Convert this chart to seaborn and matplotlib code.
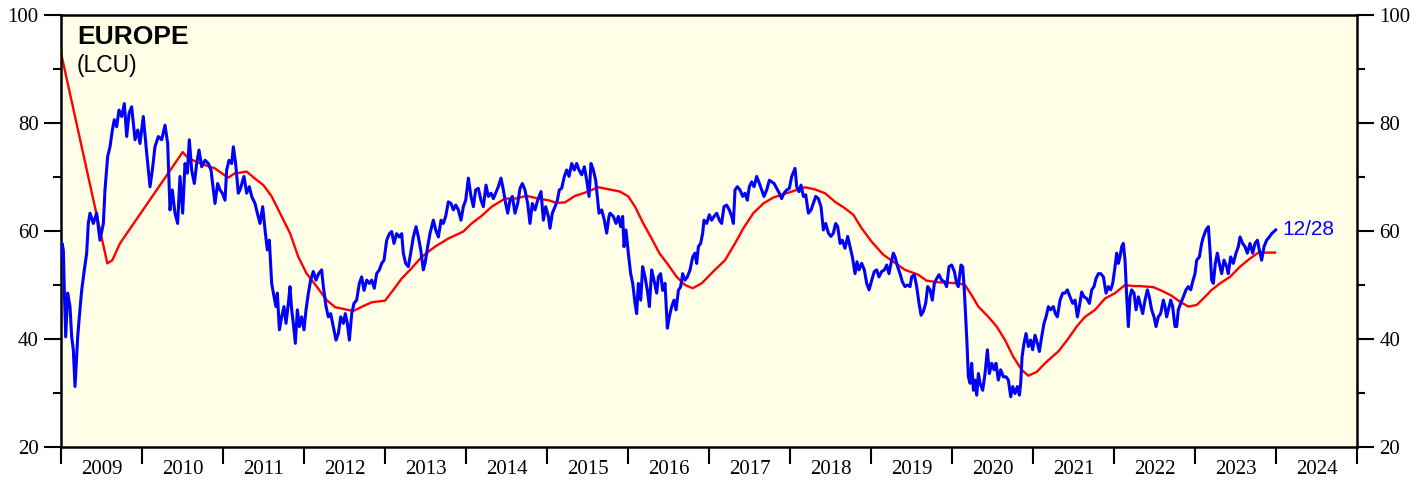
import matplotlib
matplotlib.use("Agg")
import matplotlib.pyplot as plt
import seaborn as sns
import pandas as pd
from matplotlib.ticker import FixedLocator, NullFormatter, FixedFormatter

# ---------------- data (decimal years, index values) ----------------
blue_years = [
    2009.000, 2009.012, 2009.029, 2009.041, 2009.058, 2009.082, 2009.111, 2009.132, 2009.152, 2009.173,
    2009.206, 2009.226, 2009.255, 2009.288, 2009.317, 2009.337, 2009.358, 2009.399, 2009.440, 2009.481,
    2009.523, 2009.543, 2009.576, 2009.605, 2009.634, 2009.658, 2009.687, 2009.716, 2009.749, 2009.782,
    2009.811, 2009.840, 2009.872, 2009.914, 2009.947, 2009.975, 2010.016, 2010.058, 2010.099, 2010.128,
    2010.160, 2010.202, 2010.243, 2010.284, 2010.317, 2010.346, 2010.374, 2010.407, 2010.440, 2010.469,
    2010.502, 2010.531, 2010.560, 2010.584, 2010.613, 2010.646, 2010.675, 2010.704, 2010.737, 2010.778,
    2010.819, 2010.852, 2010.881, 2010.901, 2010.934, 2010.963, 2010.992, 2011.025, 2011.045, 2011.074,
    2011.107, 2011.128, 2011.156, 2011.189,
    2011.210, 2011.259, 2011.292, 2011.325, 2011.354, 2011.395, 2011.424, 2011.457, 2011.490, 2011.519,
    2011.547, 2011.572, 2011.601, 2011.622, 2011.654, 2011.671, 2011.696, 2011.724, 2011.753, 2011.778,
    2011.807, 2011.827, 2011.848, 2011.868, 2011.893, 2011.918, 2011.943, 2011.971, 2012.000, 2012.025,
    2012.054, 2012.082, 2012.115, 2012.148, 2012.181, 2012.218, 2012.239, 2012.272, 2012.300, 2012.329,
    2012.362, 2012.395, 2012.424, 2012.453, 2012.486, 2012.510, 2012.535, 2012.560, 2012.589, 2012.617,
    2012.650, 2012.683, 2012.712, 2012.741, 2012.774, 2012.807, 2012.836, 2012.868, 2012.897, 2012.930,
    2012.959, 2012.988, 2013.021, 2013.054, 2013.082, 2013.111, 2013.144, 2013.177, 2013.206, 2013.226,
    2013.255, 2013.288, 2013.317, 2013.350, 2013.383, 2013.412, 2013.441, 2013.473,
    2013.494, 2013.527, 2013.556, 2013.597, 2013.626, 2013.659, 2013.692, 2013.720, 2013.749, 2013.782,
    2013.815, 2013.844, 2013.873, 2013.906, 2013.938, 2013.967, 2013.996, 2014.029, 2014.062, 2014.091,
    2014.119, 2014.152, 2014.185, 2014.214, 2014.247, 2014.276, 2014.309, 2014.338, 2014.366, 2014.399,
    2014.432, 2014.461, 2014.490, 2014.515, 2014.543, 2014.572, 2014.605, 2014.638, 2014.667, 2014.696,
    2014.728, 2014.761, 2014.790, 2014.819, 2014.852, 2014.885, 2014.926, 2014.955, 2014.984, 2015.017,
    2015.037, 2015.066, 2015.099, 2015.128, 2015.152, 2015.181, 2015.214, 2015.243, 2015.272, 2015.305,
    2015.337, 2015.366, 2015.395, 2015.428, 2015.461, 2015.490, 2015.519, 2015.543, 2015.572, 2015.601,
    2015.626, 2015.642, 2015.675, 2015.708, 2015.737, 2015.765,
    2015.778, 2015.819, 2015.852, 2015.881, 2015.910, 2015.934, 2015.951, 2015.975, 2016.004, 2016.033,
    2016.058, 2016.087, 2016.107, 2016.128, 2016.157, 2016.181, 2016.210, 2016.239, 2016.264, 2016.292,
    2016.321, 2016.354, 2016.375, 2016.403, 2016.428, 2016.457, 2016.486, 2016.510, 2016.539, 2016.568,
    2016.593, 2016.622, 2016.650, 2016.675, 2016.704, 2016.733, 2016.766, 2016.799, 2016.827, 2016.848,
    2016.869, 2016.897, 2016.922, 2016.938, 2016.971, 2017.004, 2017.033, 2017.062, 2017.095, 2017.128,
    2017.156, 2017.185, 2017.218, 2017.251, 2017.280, 2017.301, 2017.321, 2017.350, 2017.383, 2017.416,
    2017.445, 2017.473, 2017.498, 2017.527, 2017.556, 2017.589, 2017.622, 2017.650, 2017.679, 2017.712,
    2017.745, 2017.774, 2017.803, 2017.836, 2017.868, 2017.897, 2017.926, 2017.959, 2017.992, 2018.021,
    2018.062, 2018.083, 2018.111, 2018.136, 2018.165, 2018.194, 2018.227, 2018.260, 2018.288, 2018.317,
    2018.350, 2018.383, 2018.412, 2018.441, 2018.474, 2018.506, 2018.535, 2018.564, 2018.589, 2018.618,
    2018.646, 2018.679, 2018.712, 2018.741, 2018.770, 2018.803, 2018.827, 2018.852, 2018.885, 2018.918,
    2018.947, 2018.976, 2019.009, 2019.041, 2019.070, 2019.099, 2019.132, 2019.165, 2019.194, 2019.222,
    2019.247, 2019.276, 2019.297, 2019.329, 2019.358, 2019.387, 2019.420, 2019.453, 2019.482, 2019.502,
    2019.535, 2019.564, 2019.593, 2019.618, 2019.646, 2019.675, 2019.700, 2019.729, 2019.757, 2019.782,
    2019.811, 2019.840, 2019.873, 2019.906, 2019.934, 2019.963, 2019.996, 2020.029, 2020.058, 2020.078,
    2020.111, 2020.132, 2020.152, 2020.169, 2020.185, 2020.202, 2020.223, 2020.243, 2020.264, 2020.284,
    2020.305, 2020.326,
    2020.346, 2020.379, 2020.408, 2020.437, 2020.461, 2020.490, 2020.519, 2020.543, 2020.572, 2020.601,
    2020.634, 2020.667, 2020.696, 2020.725, 2020.749, 2020.778, 2020.807, 2020.832, 2020.848, 2020.865,
    2020.889, 2020.914, 2020.943, 2020.971, 2020.996, 2021.025, 2021.054, 2021.079, 2021.107, 2021.136,
    2021.161, 2021.190, 2021.218, 2021.251, 2021.276, 2021.301, 2021.334, 2021.367, 2021.395, 2021.424,
    2021.457, 2021.490, 2021.519, 2021.548, 2021.572, 2021.601, 2021.630, 2021.663, 2021.696, 2021.725,
    2021.753, 2021.778, 2021.807, 2021.836, 2021.869, 2021.902, 2021.930, 2021.959, 2021.984, 2022.013,
    2022.033, 2022.054, 2022.074, 2022.095, 2022.115, 2022.136, 2022.157, 2022.177, 2022.198, 2022.218,
    2022.247, 2022.272, 2022.301,
    2022.321, 2022.354, 2022.383, 2022.412, 2022.436, 2022.465, 2022.494, 2022.519, 2022.547, 2022.576,
    2022.609, 2022.630, 2022.650, 2022.671, 2022.700, 2022.724, 2022.753, 2022.774, 2022.794, 2022.823,
    2022.856, 2022.889, 2022.918, 2022.947, 2022.971, 2023.000, 2023.021, 2023.054, 2023.082, 2023.103,
    2023.136, 2023.165, 2023.185, 2023.206, 2023.226, 2023.251, 2023.276, 2023.300, 2023.329, 2023.358,
    2023.391, 2023.411, 2023.440, 2023.473, 2023.506, 2023.535, 2023.556, 2023.588, 2023.617, 2023.646,
    2023.679, 2023.712, 2023.741, 2023.770, 2023.794, 2023.823, 2023.852, 2023.885, 2023.918, 2023.946,
    2023.975, 2023.996,
]
blue_values = [
    55.0, 57.7, 56.5, 49.0, 40.4, 48.5, 46.0, 40.4, 38.0, 31.2,
    40.4, 44.1, 49.0, 52.8, 55.9, 61.4, 63.3, 61.4, 63.3, 58.3,
    61.4, 67.6, 73.8, 75.6, 78.7, 80.6, 79.3, 82.4, 81.2, 83.6,
    77.5, 81.8, 83.0, 76.9, 78.7, 76.2, 81.2, 74.4, 68.2, 71.3,
    75.6, 77.5, 76.9, 79.6, 76.2, 63.9, 67.6, 63.3, 61.4, 70.1,
    63.3, 72.5, 70.7, 76.9, 71.3, 68.8, 72.5, 75.0, 71.9, 73.1,
    72.5, 71.3, 67.6, 65.1, 68.8, 67.6, 67.0, 65.7, 71.3, 73.1,
    72.5, 75.6, 72.5, 67.0,
    67.6, 70.1, 67.0, 68.2, 66.4, 65.1, 63.3, 61.4, 64.5, 60.2,
    56.5, 58.3, 50.3, 48.5, 46.0, 48.5, 41.7, 44.1, 46.0, 42.9,
    46.6, 49.7, 45.4, 42.9, 39.2, 45.4, 42.3, 44.1, 41.7, 45.4,
    48.5, 50.9, 52.5, 50.9, 52.1, 52.8, 49.7, 46.0, 44.1, 44.7,
    42.3, 39.8, 41.0, 44.1, 42.9, 44.7, 42.9, 39.8, 44.7, 46.6,
    47.2, 50.3, 51.5, 49.0, 50.9, 50.3, 50.9, 49.4, 52.1, 52.8,
    54.0, 54.6, 58.3, 59.5, 59.9, 57.7, 59.5, 58.9, 59.5, 55.9,
    54.0, 53.4, 55.9, 58.9, 60.8, 58.9, 56.5, 52.8,
    54.0, 57.1, 59.6, 62.0, 60.2, 58.9, 62.0, 61.4, 62.7, 65.4,
    65.1, 63.9, 64.8, 63.9, 62.0, 64.5, 65.7, 69.8, 66.4, 64.5,
    67.6, 67.9, 65.7, 64.5, 68.5, 66.4, 67.0, 66.0, 67.0, 68.2,
    69.8, 67.6, 65.1, 63.3, 65.7, 66.4, 63.3, 65.1, 67.9, 68.8,
    67.6, 65.1, 61.4, 65.1, 63.9, 65.7, 67.3, 62.0, 64.5, 62.7,
    60.5, 63.3, 64.5, 65.7, 67.6, 67.9, 70.1, 71.3, 70.1, 72.5,
    71.3, 72.5, 71.3, 70.4, 71.9, 69.4, 66.4, 72.5, 71.3, 69.4,
    65.7, 63.3, 63.9, 62.0, 59.6, 62.7,
    63.3, 62.7, 61.4, 62.7, 60.8, 62.7, 57.1, 60.2, 55.9, 52.1,
    50.3, 46.6, 44.7, 50.3, 47.2, 53.4, 51.5, 49.0, 46.0, 52.8,
    50.9, 48.5, 51.5, 52.1, 49.0, 50.3, 42.0, 44.1, 46.0, 47.2,
    45.4, 49.0, 49.7, 52.1, 50.9, 51.5, 52.8, 55.2, 55.9, 54.0,
    57.1, 57.7, 59.6, 62.0, 61.4, 63.0, 62.0, 62.7, 63.3, 62.0,
    61.4, 64.5, 64.8, 63.9, 62.7, 61.4, 67.6, 68.2, 67.6, 66.4,
    67.0, 65.7, 68.2, 69.1, 68.2, 70.1, 68.8, 67.6, 66.4, 67.6,
    69.4, 69.1, 68.8, 67.9, 67.0, 66.0, 67.0, 67.6, 67.9, 70.1,
    71.6, 68.2, 67.3, 68.5, 66.4, 66.7, 63.3, 63.9, 65.1, 66.4,
    66.0, 64.5, 60.2, 61.4, 59.6, 59.0, 59.6, 61.4, 60.8, 57.7,
    58.3, 56.8, 59.0, 57.1, 55.2, 52.1, 54.3, 52.8, 54.0, 52.8,
    50.3, 49.1, 50.9, 52.5, 52.8, 51.5, 52.5, 52.8, 53.7, 52.1,
    54.0, 55.9, 55.2, 53.4, 52.1, 50.6, 49.7, 50.0, 49.7, 51.5,
    51.9, 49.7, 46.6, 44.4, 45.1, 46.6, 49.7, 49.1, 47.2, 50.3,
    51.2, 51.9, 50.9, 50.6, 49.7, 53.4, 53.7, 52.5, 50.3, 49.7,
    53.7, 53.4, 49.1, 44.1, 39.2, 33.0, 31.8, 35.5, 30.5, 32.4,
    29.6, 33.6,
    31.8, 30.5, 33.6, 38.0, 33.6, 35.5, 34.3, 35.5, 32.4, 34.3,
    33.0, 33.0, 32.4, 29.3, 31.2, 29.9, 31.2, 29.6, 31.8, 36.7,
    39.2, 41.0, 38.6, 39.8, 38.0, 40.7, 39.2, 37.7, 40.4, 42.9,
    44.1, 46.0, 45.4, 46.0, 44.7, 44.1, 47.2, 48.5, 48.5, 49.1,
    47.8, 46.6, 47.2, 44.1, 46.0, 48.7, 47.8, 47.5, 46.6, 49.1,
    49.7, 51.2, 52.1, 52.1, 51.5, 48.5, 49.7, 49.1, 50.3, 53.4,
    55.9, 54.0, 55.2, 57.1, 57.7, 54.6, 47.8, 42.3, 47.8, 49.1,
    48.5, 45.4, 47.8,
    46.6, 44.7, 47.2, 49.1, 47.8, 45.4, 44.1, 42.3, 44.1, 44.7,
    47.2, 46.0, 44.1, 45.4, 47.2, 46.0, 42.3, 42.3, 45.4, 46.6,
    47.8, 49.1, 49.7, 49.1, 50.6, 52.1, 54.6, 55.2, 57.7, 58.9,
    60.2, 60.8, 56.5, 50.9, 50.3, 54.0, 55.9, 54.0, 52.1, 54.6,
    53.4, 52.1, 55.2, 54.0, 55.9, 57.1, 58.9, 57.7, 57.1, 55.9,
    57.7, 55.9, 57.7, 58.3, 56.5, 54.6, 57.1, 58.3, 58.9, 59.5,
    59.9, 60.2,
]

red_years = [
    2009.000, 2009.572, 2009.634, 2009.728, 2010.502, 2010.572, 2010.675, 2010.778, 2010.901, 2010.984,
    2011.066, 2011.148, 2011.210, 2011.292, 2011.395, 2011.498, 2011.601, 2011.704, 2011.827, 2011.930,
    2012.033, 2012.157, 2012.280, 2012.383, 2012.506, 2012.609, 2012.733, 2012.836, 2013.000, 2013.103,
    2013.206, 2013.309, 2013.453, 2013.617, 2013.782, 2013.967, 2014.070, 2014.193, 2014.317, 2014.481,
    2014.605, 2014.749, 2014.893, 2015.017, 2015.119, 2015.222, 2015.346, 2015.469, 2015.634, 2015.737,
    2015.901, 2016.004, 2016.087, 2016.189, 2016.292, 2016.387, 2016.498, 2016.601, 2016.704, 2016.799,
    2016.909, 2017.053, 2017.198, 2017.321, 2017.424, 2017.547, 2017.671, 2017.794, 2017.918, 2018.021,
    2018.185, 2018.309, 2018.432, 2018.556, 2018.679, 2018.782, 2018.885, 2019.009, 2019.152, 2019.276,
    2019.420, 2019.584, 2019.687, 2019.831, 2019.975, 2020.078, 2020.160, 2020.243, 2020.325, 2020.449,
    2020.552, 2020.655, 2020.757, 2020.860, 2020.943, 2021.045, 2021.169, 2021.313, 2021.437, 2021.539,
    2021.642, 2021.766, 2021.889, 2022.013, 2022.136, 2022.239, 2022.321, 2022.486, 2022.609, 2022.712,
    2022.815, 2022.918, 2023.021, 2023.123, 2023.206, 2023.309, 2023.432, 2023.556, 2023.679, 2023.782,
    2023.885, 2023.988,
]
red_values = [
    93.0, 54.0, 54.6, 57.7, 74.6, 73.5, 72.8, 72.2, 71.6, 70.7,
    69.9, 70.7, 70.8, 71.0, 69.7, 68.5, 66.4, 63.3, 59.6, 55.2,
    52.1, 49.7, 47.2, 45.9, 45.5, 45.2, 46.1, 46.8, 47.1, 49.1,
    51.2, 52.8, 55.2, 57.1, 58.6, 59.9, 61.4, 62.8, 64.5, 66.0,
    66.0, 66.5, 66.0, 65.7, 65.2, 65.3, 66.5, 67.1, 68.1, 67.8,
    67.3, 66.4, 64.5, 61.4, 58.6, 55.9, 53.7, 51.5, 50.0, 49.4,
    50.3, 52.5, 54.6, 57.7, 60.5, 63.3, 65.1, 66.2, 66.8, 67.3,
    68.1, 67.7, 67.0, 65.4, 64.2, 63.0, 60.5, 58.0, 55.6, 54.3,
    52.8, 51.9, 50.8, 50.5, 50.4, 50.3, 50.0, 48.1, 46.0, 44.1,
    42.3, 39.8, 36.7, 34.3, 33.2, 33.9, 35.8, 37.7, 40.1, 42.3,
    44.1, 45.4, 47.5, 48.5, 50.0, 49.8, 49.8, 49.6, 48.8, 48.0,
    46.9, 46.0, 46.3, 47.8, 49.1, 50.3, 51.5, 53.4, 54.9, 56.0,
    56.0, 56.0,
]

year_labels = [str(y) for y in range(2009, 2025)]
y_major = [20, 40, 60, 80, 100]
y_minor = [30, 50, 70, 90]
title_text = "EUROPE"
subtitle_text = "(LCU)"
last_label = "12/28"

# ---------------- figure ----------------
serif = ["Liberation Serif", "DejaVu Serif"]
sans = ["Liberation Sans", "DejaVu Sans"]

fig = plt.figure(figsize=(14.27, 4.80), dpi=100)
ax = fig.add_axes([61 / 1427, 33 / 480, 1296 / 1427, 432 / 480])
ax.set_facecolor("#FFFEE6")

blue_df = pd.DataFrame({"year": blue_years, "value": blue_values})
red_df = pd.DataFrame({"year": red_years, "value": red_values})

sns.lineplot(data=red_df, x="year", y="value", color="#FF0000", linewidth=1.7,
             estimator=None, ax=ax, zorder=2)
sns.lineplot(data=blue_df, x="year", y="value", color="#0000FF", linewidth=2.2,
             estimator=None, ax=ax, zorder=3)
ax.set_xlabel("")
ax.set_ylabel("")

ax.set_xlim(2009, 2025)
ax.set_ylim(20, 100)

# x axis: year boundary ticks + centered labels
ax.xaxis.set_major_locator(FixedLocator(list(range(2009, 2026))))
ax.xaxis.set_major_formatter(NullFormatter())
ax.xaxis.set_minor_locator(FixedLocator([y + 0.5 for y in range(2009, 2025)]))
ax.xaxis.set_minor_formatter(FixedFormatter(year_labels))
ax.tick_params(axis="x", which="major", direction="out", length=12.5, width=1.5, color="black")
ax.tick_params(axis="x", which="minor", length=0, pad=9, labelsize=15)

# y axis both sides
ax.yaxis.set_major_locator(FixedLocator(y_major))
ax.yaxis.set_minor_locator(FixedLocator(y_minor))
ax.tick_params(axis="y", which="both", left=True, right=True, labelleft=True, labelright=True,
               direction="out")
ax.tick_params(axis="y", which="major", length=12, width=1.5, pad=4, labelsize=15)
ax.tick_params(axis="y", which="minor", length=6, width=1.5)

for lab in ax.get_xticklabels(minor=True):
    lab.set_fontfamily(serif)
for t in ax.yaxis.get_major_ticks():
    t.label1.set_fontfamily(serif)
    t.label2.set_fontfamily(serif)
    t.label2.set_fontsize(15)

for sp in ax.spines.values():
    sp.set_linewidth(1.8)
    sp.set_color("black")

ax.grid(False)

# titles
ax.text(16 / 1296, (447 - 44) / 432, title_text, transform=ax.transAxes, ha="left",
        va="baseline", fontsize=19, fontweight="bold", family=sans)
ax.text(16 / 1296, (447 - 72) / 432, subtitle_text, transform=ax.transAxes, ha="left",
        va="baseline", fontsize=16.5, family=sans)

# last-date label
ax.annotate(last_label, xy=(blue_years[-1], blue_values[-1]), xytext=(7, 0),
            textcoords="offset pixels", ha="left", va="center", color="#0000FF",
            fontsize=15, family=sans)

fig.savefig("out.png", dpi=100)
